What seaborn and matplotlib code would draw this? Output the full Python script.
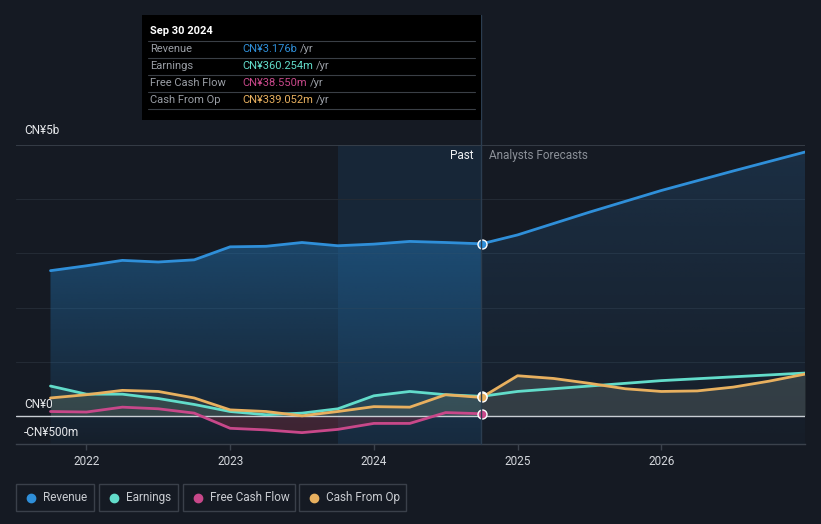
import matplotlib
matplotlib.use("Agg")
import matplotlib.pyplot as plt
from matplotlib.lines import Line2D
from matplotlib.patches import Rectangle
import seaborn as sns
import pandas as pd
import numpy as np

# values in CN¥ billions
past_dates = [2021.75, 2022.0, 2022.25, 2022.5, 2022.75, 2023.0, 2023.25,
              2023.5, 2023.75, 2024.0, 2024.25, 2024.5, 2024.75]
revenue_past = [2.68, 2.77, 2.87, 2.84, 2.88, 3.12, 3.13, 3.20, 3.14, 3.17, 3.22, 3.20, 3.176]
earnings_past = [0.55, 0.40, 0.40, 0.32, 0.21, 0.08, 0.02, 0.05, 0.13, 0.37, 0.45, 0.39, 0.360]
fcf_past = [0.08, 0.07, 0.16, 0.13, 0.05, -0.23, -0.26, -0.31, -0.25, -0.14, -0.14, 0.06, 0.0386]
cfo_past = [0.33, 0.39, 0.47, 0.45, 0.33, 0.11, 0.08, 0.00, 0.08, 0.17, 0.16, 0.39, 0.339]

fc_dates = [2025.0, 2025.5, 2026.0, 2026.5, 2027.0]
revenue_fc = [3.34, 3.76, 4.16, 4.52, 4.87]
earnings_fc = [0.45, 0.55, 0.65, 0.72, 0.79]
cfo_fc_dates = [2025.0, 2025.25, 2025.5, 2025.75, 2026.0, 2026.25, 2026.5, 2026.75, 2027.0]
cfo_fc = [0.74, 0.69, 0.60, 0.50, 0.45, 0.46, 0.53, 0.64, 0.77]

series_names = ["Revenue", "Earnings", "Free Cash Flow", "Cash From Op"]
colors = {"Revenue": "#2f8fd9", "Earnings": "#62dcca",
          "Free Cash Flow": "#c8488a", "Cash From Op": "#e8b05f"}
tooltip_values = ["CN¥3.176b", "CN¥360.254m", "CN¥38.550m", "CN¥339.052m"]

BG = "#151a23"
W, H = 821, 524
X0, X1, Y0, Y1 = 2021.51, 2027.0, -0.52, 5.0

sns.set_theme(style="dark")
plt.rcParams["font.family"] = ["Roboto", "DejaVu Sans"]
plt.rcParams["figure.facecolor"] = BG
plt.rcParams["axes.facecolor"] = BG


def fx(px):
    return px / W


def fy(py):
    return 1 - py / H


def gradient_fill(ax, xs, ys, rgb, a_top, a_bottom, top):
    # vertical gradient clipped to the area under the line
    poly = ax.fill_between(xs, ys, Y0, color="none", lw=0)
    alphas = np.interp(np.linspace(Y0, top, 256), [Y0, top], [a_bottom, a_top])
    grad = np.zeros((256, 1, 4))
    grad[:, 0, :3] = matplotlib.colors.to_rgb(rgb)
    grad[:, 0, 3] = alphas
    img = ax.imshow(grad, extent=[min(xs), max(xs), Y0, top], origin="lower",
                    aspect="auto", zorder=1, interpolation="bilinear")
    img.set_clip_path(poly.get_paths()[0], transform=ax.transData)


series = {
    "Revenue": (past_dates + fc_dates, revenue_past + revenue_fc),
    "Earnings": (past_dates + fc_dates, earnings_past + earnings_fc),
    "Free Cash Flow": (past_dates, fcf_past),
    "Cash From Op": (past_dates + cfo_fc_dates, cfo_past + cfo_fc),
}
rows = []
for name, (xs, ys) in series.items():
    for x, y in zip(xs, ys):
        rows.append({"series": name, "date": x, "value": y})
df = pd.DataFrame(rows)

fig = plt.figure(figsize=(W / 100, H / 100), dpi=100)
ax = fig.add_axes([fx(16), fy(444), fx(805) - fx(16), fy(145) - fy(444)])

# highlighted last year of history
ax.axvspan(2023.75, 2024.75, color="#1f5280", alpha=0.22, lw=0, zorder=0)

# gridlines
for g in [1, 2, 3, 4]:
    ax.axhline(g, color="#232a34", lw=0.8, zorder=0.5)
ax.axhline(5, color="#3b424c", lw=1.2, zorder=0.5)

# area fills
gradient_fill(ax, past_dates, revenue_past, "#2272b0", 0.5, 0.06, 3.2)
gradient_fill(ax, [2024.75] + fc_dates, [revenue_past[-1]] + revenue_fc,
              "#2a5f8f", 0.3, 0.05, 4.9)
ax.fill_between(past_dates, earnings_past, 0, color="#5fa39a", alpha=0.18, lw=0, zorder=1.2)
ax.fill_between(past_dates, cfo_past, 0, color="#a08a60", alpha=0.15, lw=0, zorder=1.2)
ax.fill_between(past_dates, fcf_past, 0, where=[v < 0.001 for v in fcf_past],
                interpolate=True, color="#8a2a3a", alpha=0.35, lw=0, zorder=1.2)
ax.fill_between([2024.75] + cfo_fc_dates, [cfo_past[-1]] + cfo_fc, 0,
                color="#8a9a90", alpha=0.25, lw=0, zorder=1.2)
ax.axhline(0, color="#c9ced4", lw=1.0, zorder=3)

sns.lineplot(data=df, x="date", y="value", hue="series", hue_order=series_names,
             palette=colors, estimator=None, sort=True, lw=2.0, legend=False,
             ax=ax, zorder=4)

# end-of-history markers
for name, val in [("Revenue", revenue_past[-1]), ("Earnings", earnings_past[-1]),
                  ("Free Cash Flow", fcf_past[-1]), ("Cash From Op", cfo_past[-1])]:
    ax.scatter([2024.75], [val], s=42, color=colors[name], edgecolor="white",
               linewidth=1.0, zorder=6)

ax.set_xlim(X0, X1)
ax.set_ylim(Y0, Y1)
ax.set_xlabel("")
ax.set_ylabel("")
ax.set_yticks([])
ax.set_xticks([2022, 2023, 2024, 2025, 2026])
ax.set_xticklabels(["2022", "2023", "2024", "2025", "2026"])
ax.tick_params(axis="x", colors="#3b424c", labelcolor="#d4d7dc", labelsize=8.5,
               length=4, width=1, pad=4, bottom=True)
for side in ["top", "right", "left"]:
    ax.spines[side].set_visible(False)
ax.spines["bottom"].set_color("#3b424c")
ax.spines["bottom"].set_linewidth(1.0)
ax.grid(False)

# y labels drawn inside the plot
for label, py in [("CN¥5b", 131), ("CN¥0", 405), ("-CN¥500m", 432)]:
    fig.text(fx(24), fy(py), label, color="#e6e8eb", fontsize=8.5,
             va="center", ha="left", zorder=7)

fig.text(fx(473), fy(156), "Past", color="#f0f2f4", fontsize=8.5, va="center", ha="right")
fig.text(fx(489), fy(156), "Analysts Forecasts", color="#8b9098", fontsize=8.5,
         va="center", ha="left")

# hover line and tooltip
fig.add_artist(Line2D([fx(481), fx(481)], [fy(15), fy(444)], color="#2b3d50",
                      lw=1.0, zorder=2))
fig.add_artist(Rectangle((fx(142), fy(120)), fx(481) - fx(142), fy(15) - fy(120),
                         transform=fig.transFigure, facecolor="black",
                         edgecolor="none", zorder=10))
fig.text(fx(150), fy(31), "Sep 30 2024", color="white", fontsize=8,
         fontweight="bold", va="center", zorder=11)
value_texts = []
for i, (name, val) in enumerate(zip(series_names, tooltip_values)):
    ly = 41 + i * 17
    fig.add_artist(Line2D([fx(148), fx(475)], [fy(ly), fy(ly)], color="#3a3f46",
                          lw=0.8, zorder=11))
    fig.text(fx(150), fy(ly + 8), name, color="#9a9ea5", fontsize=8,
             va="center", zorder=11)
    value_texts.append(fig.text(fx(242), fy(ly + 8), val, color=colors[name],
                                fontsize=8, va="center", zorder=11))
fig.add_artist(Line2D([fx(148), fx(475)], [fy(109), fy(109)], color="#3a3f46",
                      lw=0.8, zorder=11))

# place "/yr" right after each value
fig.canvas.draw()
renderer = fig.canvas.get_renderer()
for txt in value_texts:
    bb = txt.get_window_extent(renderer)
    fig.text(bb.x1 / W + fx(3), txt.get_position()[1], "/yr", color="#9a9ea5",
             fontsize=8, va="center", zorder=11)

# legend as separate boxed items
legend_boxes = [(16, 94), (99, 178), (183, 295), (299, 406)]
for name, (x0, x1) in zip(series_names, legend_boxes):
    fig.add_artist(Rectangle((fx(x0), fy(511)), fx(x1) - fx(x0), fy(484) - fy(511),
                             transform=fig.transFigure, facecolor="none",
                             edgecolor="#3a404a", lw=1.0))
    fig.add_artist(Line2D([fx(x0 + 15)], [fy(497.5)], marker="o", markersize=6,
                          color=colors[name], lw=0))
    fig.text(fx(x0 + 27), fy(497.5), name, color="#c9ccd1", fontsize=8.5, va="center")

fig.savefig("out.png", dpi=100, facecolor=BG)
